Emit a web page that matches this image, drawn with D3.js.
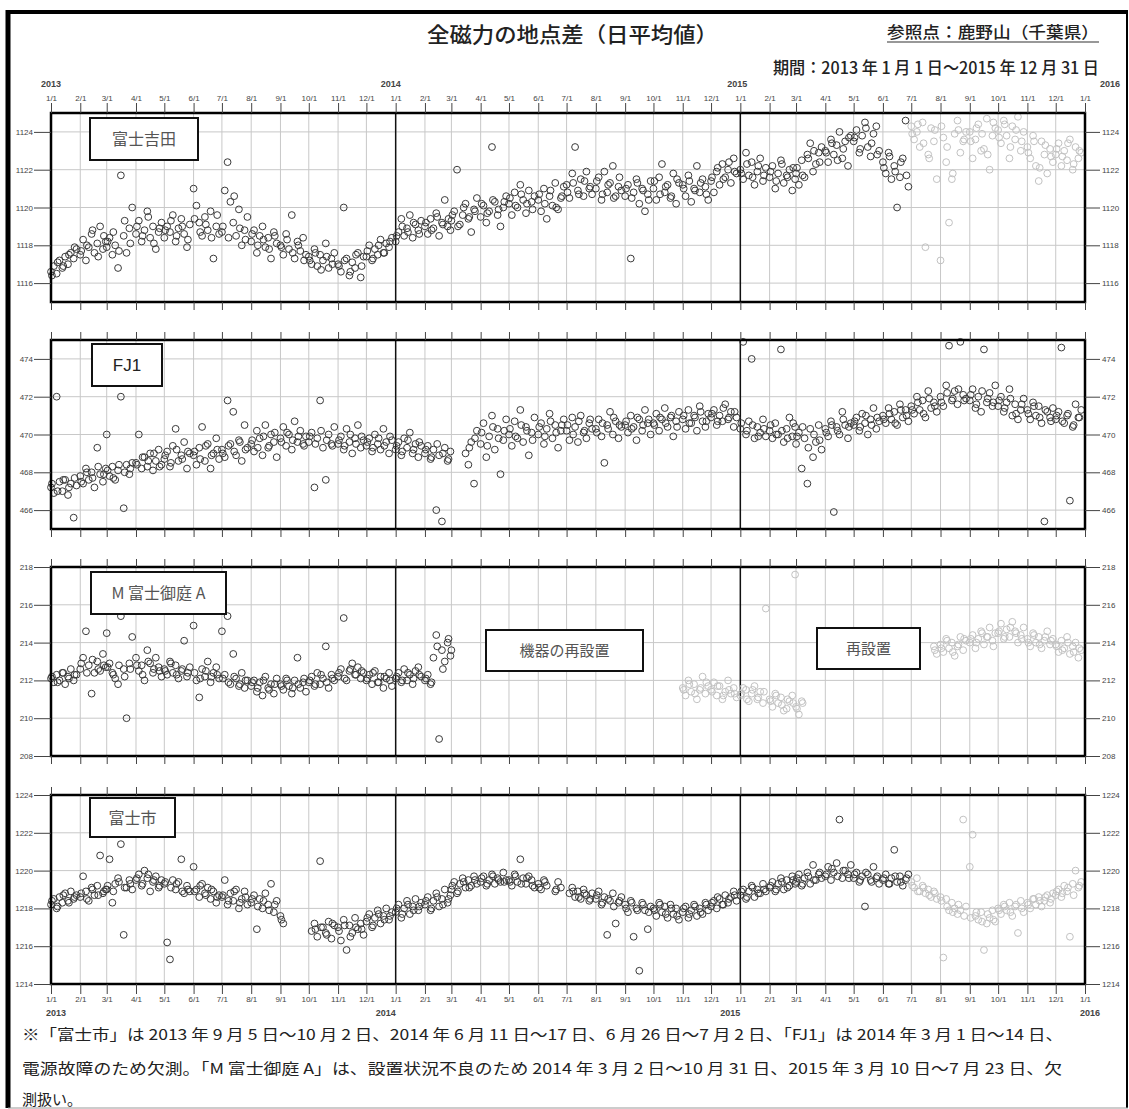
<!DOCTYPE html>
<html>
<head>
<meta charset="utf-8">
<script src="https://cdn.jsdelivr.net/npm/d3@7"></script>
<style>
  body { margin: 0; background: #fff; }
  svg { display: block; }
</style>
</head>
<body>
<div id="chart"></div>
<script>
// day of month for each entry in a row (first ten every 3 days, then five in-between days)
const sampleDays = [1, 4, 7, 10, 13, 16, 19, 22, 25, 28, 2, 8, 14, 20, 26];

// 富士吉田, Jan 2013 .. Dec 2015, one row per month
const fujiyoshida = [
  [1116.6,1116.9,1116.5,1117.2,1116.8,1117.4,1117.0,1117.6,1117.3,1117.8, 1116.4,1117.1,1116.9,1117.5,1117.9],
  [1117.5,1118.3,1117.2,1117.9,1118.6,1117.6,1118.1,1119.0,1117.8,1118.2, 1117.7,1118.0,1118.8,1117.4,1118.5],
  [1117.9,1118.4,1117.5,1118.0,1116.8,1121.7,1118.5,1117.6,1118.9,1120.0, 1118.2,1118.7,1117.7,1119.3,1118.1],
  [1118.6,1119.3,1118.2,1118.8,1119.8,1118.4,1119.0,1117.8,1118.7,1119.2, 1119.0,1118.5,1119.5,1118.1,1118.9],
  [1118.4,1119.0,1118.7,1119.6,1118.2,1118.9,1119.4,1118.6,1117.9,1119.1, 1118.8,1119.3,1118.5,1119.0,1118.3],
  [1121.0,1120.1,1119.2,1118.5,1119.5,1118.8,1119.8,1117.3,1119.0,1118.6, 1119.4,1118.7,1119.1,1118.4,1119.6],
  [1118.7,1120.9,1122.4,1120.3,1119.2,1118.5,1119.9,1118.0,1118.8,1119.5, 1119.0,1118.4,1120.6,1118.9,1118.3],
  [1118.2,1118.8,1117.6,1118.5,1119.0,1117.9,1118.4,1117.3,1118.7,1118.1, 1118.6,1118.0,1118.3,1117.8,1118.5],
  [1118.0,1117.5,1118.6,1117.8,1119.6,1117.3,1118.2,1117.7,1118.4,1117.5, 1117.9,1118.3,1117.6,1118.0,1117.2],
  [1117.4,1117.0,1117.8,1116.9,1117.5,1117.2,1118.1,1116.8,1117.3,1117.6, 1117.2,1117.6,1116.7,1117.4,1117.0],
  [1117.0,1116.6,1120.0,1117.3,1116.4,1117.1,1116.8,1117.6,1116.3,1117.4, 1116.9,1117.2,1116.6,1117.5,1116.9],
  [1117.4,1118.0,1117.2,1117.8,1117.5,1118.3,1117.6,1118.1,1117.9,1118.4, 1117.7,1117.3,1118.0,1117.6,1118.2],
  [1118.2,1118.7,1119.4,1118.5,1118.9,1119.6,1118.4,1119.1,1118.8,1119.3, 1118.5,1119.0,1118.7,1119.2,1118.6],
  [1119.0,1118.6,1119.4,1118.9,1119.7,1118.5,1119.2,1120.4,1119.0,1118.8, 1119.2,1118.8,1119.5,1119.1,1119.4],
  [1119.3,1119.8,1122.0,1119.1,1119.6,1120.2,1119.4,1118.7,1119.9,1120.5, 1119.6,1119.0,1120.0,1119.5,1119.8],
  [1119.5,1120.1,1119.2,1119.8,1123.2,1120.3,1119.6,1119.0,1120.0,1120.6, 1120.2,1119.7,1120.4,1119.9,1120.3],
  [1120.2,1119.6,1120.8,1120.0,1121.2,1120.4,1119.7,1120.9,1120.3,1120.6, 1120.5,1120.1,1120.7,1120.2,1119.9],
  [1120.4,1119.8,1121.0,1119.4,1120.6,1120.1,1121.3,1119.9,1120.5,1121.1, 1120.7,1120.2,1120.9,1120.0,1120.6],
  [1121.2,1120.5,1121.8,1123.2,1120.9,1121.5,1120.6,1121.9,1121.0,1120.7, 1120.8,1121.3,1120.7,1121.4,1121.1],
  [1121.0,1121.6,1120.4,1121.9,1120.8,1121.3,1122.2,1120.6,1121.1,1120.9, 1121.4,1120.7,1121.2,1120.5,1121.6],
  [1120.6,1121.2,1117.3,1120.8,1121.5,1120.2,1121.0,1119.8,1120.7,1121.4, 1121.0,1120.5,1121.3,1120.9,1120.4],
  [1121.0,1120.4,1121.6,1122.3,1120.8,1121.2,1120.5,1121.8,1120.2,1121.3, 1121.4,1120.7,1121.1,1120.6,1121.5],
  [1121.2,1120.6,1121.7,1120.3,1121.0,1122.2,1120.8,1121.5,1121.1,1120.4, 1121.0,1121.4,1120.9,1121.3,1120.7],
  [1121.4,1120.8,1121.9,1121.2,1122.3,1121.6,1122.0,1121.3,1122.6,1121.8, 1121.6,1122.1,1121.5,1122.4,1121.9],
  [1122.0,1121.5,1122.9,1121.7,1122.4,1121.2,1121.9,1122.6,1121.4,1122.1, 1121.8,1122.3,1121.6,1122.2,1121.7],
  [1121.6,1122.2,1121.0,1121.8,1122.5,1121.3,1121.7,1122.0,1120.9,1121.5, 1121.9,1121.4,1122.3,1121.6,1122.1],
  [1121.8,1121.2,1122.5,1121.6,1122.8,1123.4,1121.9,1122.3,1122.9,1123.2, 1122.1,1121.7,1122.6,1123.0,1122.4],
  [1123.0,1122.4,1123.6,1122.8,1123.3,1124.0,1122.6,1123.5,1122.2,1123.8, 1122.9,1123.4,1122.5,1123.1,1123.7],
  [1123.5,1124.1,1122.9,1123.8,1124.5,1123.2,1122.7,1123.9,1124.3,1123.0, 1123.7,1123.1,1124.2,1123.4,1122.8],
  [1122.4,1121.8,1122.9,1121.5,1122.2,1120.0,1121.6,1122.6,1124.6,1121.1, 1122.1,1122.7,1121.9,1122.4,1121.7],
  [1124.3,1123.6,1124.0,1123.2,1124.5,1117.9,1122.8,1124.2,1123.5,1121.5, 1123.9,1124.4,1123.4,1122.6,1124.1],
  [1117.2,1123.7,1122.4,1119.2,1121.5,1123.9,1124.6,1122.9,1123.5,1124.0, 1124.3,1123.2,1121.8,1124.1,1123.6],
  [1124.0,1122.6,1123.6,1124.4,1123.0,1123.1,1124.7,1122.0,1123.8,1124.2, 1123.5,1124.2,1123.9,1122.8,1124.5],
  [1124.1,1123.4,1124.6,1123.8,1122.6,1124.3,1123.6,1124.8,1123.0,1124.0, 1123.7,1124.4,1123.2,1124.1,1123.5],
  [1123.2,1122.6,1123.8,1122.2,1121.4,1123.5,1122.8,1121.8,1123.1,1122.4, 1122.9,1123.5,1122.1,1123.3,1122.7],
  [1122.8,1123.4,1122.2,1123.0,1122.5,1123.6,1122.0,1123.2,1122.6,1122.9, 1123.1,1122.7,1123.4,1122.3,1123.0]
];

// FJ1
const fj1 = [
  [467.2,466.9,472.0,467.5,467.0,467.6,466.8,467.4,465.6,467.3, 467.4,467.0,467.6,467.2,467.7],
  [467.8,467.4,468.2,467.6,468.0,467.2,469.3,467.9,467.5,468.2, 467.5,468.0,467.7,468.3,467.9],
  [470.0,467.8,468.3,467.6,468.1,472.0,466.1,468.4,467.9,468.5, 468.1,467.7,468.4,468.0,468.2],
  [468.5,470.0,468.2,468.8,468.3,469.0,468.1,468.6,469.2,468.4, 468.4,468.8,468.6,469.0,468.3],
  [468.7,469.1,468.3,469.4,470.3,468.6,468.9,469.6,468.2,469.0, 468.9,468.5,469.2,468.7,469.1],
  [468.9,468.4,469.3,470.4,468.6,469.5,468.2,469.0,469.8,468.7, 469.1,468.7,469.4,468.9,469.2],
  [469.2,468.8,471.8,469.5,471.2,468.9,469.7,468.6,470.5,469.3, 469.0,469.4,469.1,469.6,469.2],
  [469.5,469.1,470.2,469.8,468.9,470.5,469.3,470.0,469.6,468.8, 469.7,469.3,469.9,469.4,470.1],
  [469.8,470.4,469.4,470.0,469.2,470.7,469.6,470.2,469.5,469.9, 469.6,470.1,469.7,469.9,469.4],
  [469.6,470.1,467.2,469.8,471.8,469.3,467.6,470.0,469.5,470.4, 469.9,469.5,470.2,469.7,469.4],
  [469.5,469.9,469.2,470.3,469.6,469.0,469.8,470.5,469.3,469.7, 469.7,469.4,470.0,469.5,469.9],
  [469.4,469.8,469.1,470.0,469.5,469.2,470.3,469.6,469.0,469.7, 469.6,469.3,469.8,469.4,469.9],
  [469.2,469.6,468.9,469.8,469.3,470.1,469.0,469.5,468.8,469.4, 469.4,469.1,469.7,469.2,469.6],
  [469.0,469.4,468.7,469.2,466.0,468.9,465.4,469.3,468.6,469.1, 469.2,468.8,469.5,469.0,468.7],
  [null,null,null,null,null,469.0,468.4,469.6,467.4,470.2, null,null,null,469.3,469.8],
  [469.5,470.6,468.8,469.9,471.0,469.2,470.3,467.9,469.7,470.8, 470.1,469.4,470.4,469.8,470.2],
  [470.0,469.4,470.7,469.8,471.3,469.6,470.4,468.9,470.1,470.9, 470.3,469.9,470.5,470.2,469.7],
  [470.0,470.6,469.5,470.3,471.1,469.8,470.5,469.3,470.2,470.8, 470.4,469.9,470.7,470.1,470.5],
  [470.2,469.7,470.9,470.4,469.6,471.0,470.1,469.8,470.6,470.3, 470.5,470.0,470.7,470.2,470.8],
  [470.3,470.8,469.9,468.5,470.5,471.2,470.0,470.7,469.8,470.4, 470.1,470.6,470.3,470.9,470.5],
  [470.5,470.1,471.0,470.4,469.7,470.8,470.2,471.3,470.6,470.0, 470.7,470.3,470.9,470.5,470.8],
  [470.6,471.1,470.2,470.8,471.4,470.4,470.9,469.9,470.7,471.2, 470.5,470.9,470.6,471.0,470.4],
  [470.8,470.3,471.3,470.6,471.0,470.2,471.5,470.7,470.4,471.1, 471.0,470.6,470.9,471.2,470.7],
  [470.9,471.3,470.5,471.0,470.7,471.6,470.8,471.2,470.4,470.9, 471.1,470.7,471.4,470.9,471.2],
  [470.3,474.9,470.0,470.7,474.0,469.8,470.4,470.1,470.8,469.9, 470.6,470.2,470.5,469.9,470.3],
  [470.2,469.8,470.6,470.0,474.5,469.6,470.3,470.9,469.9,470.4, 470.5,470.0,470.2,469.8,470.6],
  [469.5,470.1,468.2,469.8,467.4,470.3,468.8,469.6,470.5,469.2, 469.9,470.4,469.3,470.0,469.7],
  [470.3,469.9,470.7,465.9,470.4,470.0,471.2,470.5,469.8,470.6, 470.1,470.5,470.2,470.8,470.4],
  [470.5,470.9,470.2,471.1,470.6,470.0,470.8,471.4,470.3,470.7, 470.7,470.4,471.0,470.5,470.9],
  [471.0,470.6,471.4,470.8,471.2,470.5,471.6,470.9,471.3,470.7, 470.8,471.1,470.6,471.3,471.0],
  [471.5,471.1,472.0,471.3,471.8,470.9,472.3,471.4,471.7,471.2, 471.3,471.7,471.1,471.9,471.5],
  [472.0,471.5,472.6,474.7,471.8,472.3,471.6,474.9,472.1,471.9, 471.7,472.2,471.9,472.4,471.8],
  [471.8,472.4,471.4,472.0,471.2,474.5,471.7,472.2,471.5,472.6, 472.1,471.6,472.3,471.9,471.7],
  [471.5,472.0,471.2,471.7,472.4,471.0,471.6,470.8,471.3,471.9, 471.8,471.4,471.9,471.1,471.6],
  [471.3,470.8,471.7,471.0,471.5,470.6,465.4,471.2,470.9,471.4, 471.1,471.5,470.9,471.3,470.7],
  [470.8,471.2,474.6,470.6,471.0,466.5,470.4,471.6,470.9,471.3, 471.0,470.7,471.1,470.5,470.9]
];

// M 富士御庭 A
const oniwa = [
  [212.1,211.9,212.3,212.0,212.4,211.8,212.2,212.6,212.0,212.3, 212.2,211.9,212.4,212.1,212.3],
  [212.6,213.2,214.6,212.8,211.3,212.4,213.0,212.5,213.4,212.7, 212.9,212.4,213.1,212.6,212.8],
  [214.5,212.9,212.4,212.1,211.8,215.4,212.6,210.0,212.9,214.3, 212.7,212.3,212.8,212.2,212.6],
  [213.2,212.5,212.8,212.0,213.6,212.9,212.4,213.2,212.7,212.2, 212.8,212.3,213.0,212.6,212.5],
  [212.6,212.3,213.0,212.4,212.8,212.1,212.5,214.1,212.2,212.7, 212.5,212.9,212.3,212.6,212.4],
  [214.9,212.0,211.1,212.6,212.2,213.0,211.9,212.4,212.7,212.1, 212.4,212.1,212.5,212.2,212.3],
  [214.6,212.3,215.4,211.8,213.4,212.1,211.7,212.4,211.6,212.0, 212.1,211.9,212.2,211.8,212.0],
  [211.7,212.0,211.4,211.9,211.2,212.2,211.6,211.8,211.3,212.1, 211.9,211.6,212.0,211.5,211.8],
  [211.8,211.5,212.1,211.7,211.3,212.0,213.2,211.6,211.9,211.4, 211.7,212.0,211.6,211.8,212.1],
  [211.9,212.2,211.7,212.4,211.8,212.1,213.8,211.6,212.3,212.0, 212.0,211.8,212.3,211.9,212.1],
  [212.2,212.6,215.3,212.0,212.5,212.9,212.3,212.7,212.1,212.4, 212.4,212.1,212.6,212.3,212.5],
  [212.0,212.3,211.8,212.5,211.9,212.2,211.6,212.1,212.4,211.7, 212.1,212.4,211.9,212.2,212.0],
  [212.1,212.4,211.9,212.6,212.0,212.3,211.8,212.5,212.7,212.2, 212.2,212.0,212.4,212.1,212.3],
  [212.0,212.3,211.8,213.2,214.4,208.9,213.6,213.0,214.0,213.3, 212.1,211.9,213.8,212.6,214.2],
  [213.6],
  [], [], [], [], [], [], [],
  [211.6,211.2,212.0,211.4,211.8,211.0,211.5,212.2,211.3,211.7, 211.5,211.8,211.3,211.6,211.9],
  [211.5,211.9,211.2,211.7,211.0,211.4,212.0,211.3,211.6,211.1, 211.4,211.7,211.2,211.5,211.3],
  [211.2,211.6,211.5,210.9,211.3,211.7,211.0,211.4,210.8,215.8, 211.3,211.0,211.5,211.1,211.4],
  [211.0,210.6,211.3,210.8,211.1,210.4,210.5,210.9,211.2,217.6, 210.9,211.2,210.7,211.0,210.8],
  [210.6,210.2,210.9,null,null,null,null,null,null,null, 210.5,210.8],
  [], [], [],
  [null,null,null,null,null,null,null,null,213.8,213.4, null,null,null,null,213.6],
  [213.9,213.5,214.2,213.7,214.0,213.3,213.8,214.3,213.6,214.1, 213.7,214.1,213.5,213.9,214.2],
  [214.0,214.4,213.7,214.2,214.6,213.9,214.3,214.8,214.1,214.5, 214.2,214.0,214.5,214.3,213.8],
  [214.5,215.0,214.2,214.7,214.3,215.1,214.6,214.0,214.4,214.8, 214.6,214.3,214.8,214.5,214.2],
  [214.2,213.8,214.5,214.0,214.3,213.7,214.1,214.6,213.9,214.2, 214.0,214.4,213.9,214.3,214.1],
  [213.9,213.5,214.1,213.7,214.3,213.4,213.8,214.0,213.2,213.6, 213.8,213.6,214.0,213.5,213.7]
];

// 富士市
const fujishi = [
  [1218.2,1218.5,1218.0,1218.6,1218.3,1218.8,1218.4,1218.9,1218.5,1218.7, 1218.4,1218.1,1218.7,1218.3,1218.6],
  [1218.6,1219.7,1218.9,1218.4,1219.1,1218.7,1219.2,1220.8,1218.8,1219.0, 1218.8,1218.5,1219.0,1218.7,1218.9],
  [1219.0,1220.6,1218.3,1219.3,1219.6,1221.4,1216.6,1219.1,1219.5,1219.0, 1219.2,1218.9,1219.4,1219.1,1219.3],
  [1219.5,1219.8,1219.2,1220.0,1219.6,1218.9,1219.4,1219.7,1219.1,1219.5, 1219.6,1219.3,1219.8,1219.5,1219.2],
  [1219.3,1216.2,1215.3,1219.5,1219.0,1219.4,1220.6,1218.8,1219.2,1218.9, 1219.4,1219.1,1219.3,1218.9,1219.0],
  [1220.2,1219.0,1218.6,1219.3,1218.8,1219.1,1218.5,1218.9,1218.3,1218.7, 1218.9,1219.2,1218.7,1219.0,1218.6],
  [1218.6,1219.5,1218.2,1218.8,1218.4,1219.0,1218.0,1218.5,1218.9,1218.2, 1218.7,1218.4,1218.9,1218.3,1218.6],
  [1218.3,1218.7,1216.9,1218.5,1218.0,1218.8,1218.2,1219.3,1217.8,1218.4, 1218.5,1218.1,1218.4,1217.9,1218.2],
  [1217.6,1217.2,null,null,null,null,null,null,null,null, 1217.4],
  [null,1216.8,1217.2,1216.5,1220.5,1217.0,1216.7,1217.3,1216.4,1217.1, null,1216.9,1217.0,1216.6,1217.2],
  [1217.0,1216.3,1217.4,1215.8,1217.1,1216.7,1217.5,1216.9,1217.2,1216.6, 1216.8,1217.1,1216.5,1217.0,1216.9],
  [1217.3,1217.7,1217.0,1217.5,1217.9,1217.2,1217.6,1218.0,1217.4,1217.8, 1217.5,1217.1,1217.7,1217.4,1217.6],
  [1217.8,1218.2,1217.5,1218.0,1218.4,1217.7,1218.1,1218.5,1217.9,1218.3, 1218.0,1217.7,1218.2,1217.9,1218.1],
  [1218.2,1218.6,1217.9,1218.4,1218.8,1218.1,1218.5,1219.0,1218.3,1218.7, 1218.4,1218.0,1218.6,1218.2,1218.5],
  [1219.0,1219.4,1218.8,1219.3,1219.6,1219.1,1219.5,1219.2,1219.7,1219.3, 1219.2,1218.9,1219.4,1219.1,1219.5],
  [1219.4,1219.7,1219.2,1219.5,1219.8,1219.3,1219.6,1219.4,1219.9,1219.5, 1219.6,1219.3,1219.7,1219.5,1219.4],
  [1219.5,1219.2,1219.8,1219.4,1220.6,1219.6,1219.3,1219.7,1219.5,1219.1, 1219.4,1219.7,1219.3,1219.6,1219.2],
  [1219.3,1219.0,1219.5,1219.2,null,null,1218.9,1219.4,1219.1,null, 1219.1,1219.4,null,1219.0,null],
  [null,1218.8,1219.1,1218.6,1218.9,1218.5,1219.0,1218.7,1218.4,1218.8, null,1218.9,1218.6,1218.8,1218.5],
  [1218.5,1218.9,1218.2,1218.6,1216.6,1218.4,1218.8,1217.2,1218.3,1218.6, 1218.7,1218.3,1218.5,1218.1,1218.4],
  [1218.2,1217.8,1218.4,1216.5,1218.0,1214.7,1218.3,1217.9,1216.9,1218.1, 1218.0,1218.3,1217.9,1218.2,1217.8],
  [1218.0,1217.6,1218.3,1217.8,1218.1,1217.5,1218.2,1217.7,1218.0,1217.4, 1217.9,1218.2,1217.7,1218.0,1217.6],
  [1217.8,1218.1,1217.5,1217.9,1218.2,1217.6,1218.0,1217.7,1218.3,1217.9, 1218.0,1217.7,1218.1,1217.8,1218.2],
  [1218.1,1218.4,1218.0,1218.5,1218.2,1218.7,1218.3,1218.6,1218.9,1218.4, 1218.3,1218.6,1218.2,1218.5,1218.7],
  [1218.7,1219.0,1218.5,1218.9,1219.2,1218.6,1219.0,1218.8,1219.3,1218.9, 1218.9,1218.6,1219.1,1218.8,1219.0],
  [1219.1,1219.4,1218.9,1219.3,1219.6,1219.0,1219.5,1219.2,1219.7,1219.3, 1219.2,1219.0,1219.4,1219.1,1219.5],
  [1219.4,1219.8,1219.2,1219.6,1219.9,1219.3,1220.3,1219.5,1219.8,1219.6, 1219.6,1219.3,1219.7,1219.5,1219.9],
  [1219.7,1220.2,1219.5,1219.9,1220.4,1222.7,1219.6,1220.0,1219.8,1220.3, 1219.8,1220.1,1219.7,1220.0,1219.6],
  [1219.6,1219.9,1219.4,1219.7,1218.1,1219.8,1219.5,1220.2,1219.6,1219.3, 1219.8,1219.5,1219.9,1219.4,1219.7],
  [1219.5,1219.8,1219.3,1219.6,1221.1,1219.4,1219.7,1219.2,1219.5,1219.8, 1219.6,1219.3,1219.7,1219.4,1219.6],
  [1219.4,1219.1,1219.6,1218.9,1219.2,1218.8,1219.0,1218.6,1218.9,1218.5, 1219.2,1218.9,1219.1,1218.7,1218.8],
  [1218.6,1215.4,1218.5,1217.9,1218.3,1218.0,1217.7,1217.9,1222.7,1218.1, 1218.4,1218.1,1217.8,1218.2,1217.6],
  [1220.2,1221.9,1217.6,1217.4,1217.8,1215.8,1217.2,1217.5,1217.9,1217.3, 1217.5,1217.8,1217.3,1217.7,1217.4],
  [1218.0,1217.7,1218.2,1217.9,1218.3,1217.6,1218.1,1216.7,1218.4,1217.8, 1217.9,1218.1,1217.8,1218.2,1218.0],
  [1218.3,1218.0,1218.5,1218.2,1218.6,1218.1,1218.4,1218.7,1218.3,1218.8, 1218.2,1218.5,1218.4,1218.6,1218.5],
  [1218.7,1219.0,1218.6,1219.2,1218.9,1216.5,1219.3,1220.0,1219.1,1219.4, 1218.9,1218.8,1219.1,1218.7,1219.2]
];

const panelNames = ['富士吉田', 'FJ1', 'M 富士御庭 A', '富士市'];
const panelSeries = [fujiyoshida, fj1, oniwa, fujishi];
const panelDomains = [[1115, 1125], [465, 475], [208, 218], [1214, 1224]];
const panelTicks = [
  [1116, 1118, 1120, 1122, 1124],
  [466, 468, 470, 472, 474],
  [208, 210, 212, 214, 216, 218],
  [1214, 1216, 1218, 1220, 1222, 1224]
];
// periods drawn in light grey
const fadedRanges = [
  [['2015-07-01', '2016-01-01']],
  [],
  [['2014-11-01', '2015-03-10'], ['2015-07-24', '2016-01-01']],
  [['2015-07-01', '2016-01-01']]
];
const yearLabels = ['2013', '2014', '2015', '2016'];
const footnotes = [
  '※「富士市」は 2013 年 9 月 5 日～10 月 2 日、2014 年 6 月 11 日～17 日、6 月 26 日～7 月 2 日、「FJ1」は 2014 年 3 月 1 日～14 日、',
  '電源故障のため欠測。「M 富士御庭 A」は、設置状況不良のため 2014 年 3 月 2 日～10 月 31 日、2015 年 3 月 10 日～7 月 23 日、欠',
  '測扱い。'
];

// layout
const W = 1129, H = 1109;
const plotLeft = 51, plotRight = 1085;
const panelTops = [113, 340, 567, 795];
const panelH = 189;
const labelBoxes = [[90, 118, 108, 42], [92, 344, 70, 42], [91, 572, 135, 42], [90, 798, 85, 39]];
const noteBoxes = [
  { text: '機器の再設置', box: [486, 630, 157, 41] },
  { text: '再設置', box: [817, 628, 103, 41] }
];
const topYearShift = [0, -5, -3, 25];
const bottomYearShift = [5, -10, -10, 5];
const jpFont = '"Noto Sans CJK JP", "Noto Sans", sans-serif';
const numFont = '"Liberation Sans", Arial, sans-serif';

const svg = d3.select('#chart').append('svg')
  .attr('width', W)
  .attr('height', H);

svg.append('rect').attr('width', W).attr('height', H).attr('fill', '#fff');

const start = new Date(Date.UTC(2013, 0, 1));
const end = new Date(Date.UTC(2016, 0, 1));
const x = d3.scaleUtc().domain([start, end]).range([plotLeft, plotRight]);
const monthTicks = d3.utcMonths(start, new Date(Date.UTC(2016, 0, 2)));
const yearTicks = d3.utcYears(start, new Date(Date.UTC(2016, 0, 2)));

function toPoints(rows) {
  const pts = [];
  rows.forEach((row, m) => {
    row.forEach((v, k) => {
      if (v == null) return;
      pts.push({ date: new Date(Date.UTC(2013, m, sampleDays[k])), value: v });
    });
  });
  return pts;
}

function isFaded(i, date) {
  return fadedRanges[i].some(([a, b]) => date >= new Date(a) && date < new Date(b));
}

// outer frame
svg.append('line').attr('x1', 8).attr('x2', 1128).attr('y1', 12).attr('y2', 12)
  .attr('stroke', '#000').attr('stroke-width', 4);
svg.append('line').attr('x1', 8).attr('x2', 8).attr('y1', 10).attr('y2', 1108)
  .attr('stroke', '#000').attr('stroke-width', 5);
svg.append('line').attr('x1', 1127).attr('x2', 1127).attr('y1', 10).attr('y2', 1108)
  .attr('stroke', '#000').attr('stroke-width', 2);
svg.append('line').attr('x1', 8).attr('x2', 1128).attr('y1', 1108).attr('y2', 1108)
  .attr('stroke', '#999').attr('stroke-width', 1);

// titles
svg.append('text')
  .attr('x', 427).attr('y', 42)
  .attr('font-family', jpFont).attr('font-size', 21).attr('font-weight', 500)
  .attr('fill', '#222')
  .attr('textLength', 291).attr('lengthAdjust', 'spacingAndGlyphs')
  .text('全磁力の地点差（日平均値）');

svg.append('text')
  .attr('x', 887).attr('y', 38)
  .attr('font-family', jpFont).attr('font-size', 16).attr('font-weight', 500)
  .attr('fill', '#222')
  .attr('textLength', 212).attr('lengthAdjust', 'spacingAndGlyphs')
  .text('参照点：鹿野山（千葉県）');
svg.append('line').attr('x1', 887).attr('x2', 1099).attr('y1', 42).attr('y2', 42)
  .attr('stroke', '#333').attr('stroke-width', 1.2);

svg.append('text')
  .attr('x', 773).attr('y', 74)
  .attr('font-family', jpFont).attr('font-size', 17).attr('font-weight', 500)
  .attr('fill', '#222')
  .attr('textLength', 326).attr('lengthAdjust', 'spacingAndGlyphs')
  .text('期間：2013 年 1 月 1 日～2015 年 12 月 31 日');

function styleAxis(g) {
  g.select('.domain').remove();
  g.attr('color', '#444')
    .attr('font-family', numFont)
    .attr('font-size', 8);
}

panelSeries.forEach((rows, i) => {
  const top = panelTops[i];
  const bottom = top + panelH;
  const y = d3.scaleLinear().domain(panelDomains[i]).range([bottom, top]);
  const g = svg.append('g');

  // grid
  g.append('g').selectAll('line')
    .data(monthTicks)
    .join('line')
    .attr('x1', d => x(d)).attr('x2', d => x(d))
    .attr('y1', top).attr('y2', bottom)
    .attr('stroke', '#c8c8c8').attr('stroke-width', 1);
  g.append('g').selectAll('line')
    .data(panelTicks[i])
    .join('line')
    .attr('x1', plotLeft).attr('x2', plotRight)
    .attr('y1', d => y(d)).attr('y2', d => y(d))
    .attr('stroke', '#c8c8c8').attr('stroke-width', 1);
  g.append('g').selectAll('line')
    .data(yearTicks.slice(1, -1))
    .join('line')
    .attr('x1', d => x(d)).attr('x2', d => x(d))
    .attr('y1', top).attr('y2', bottom)
    .attr('stroke', '#111').attr('stroke-width', 1.5);

  // points
  const pts = toPoints(rows);
  g.append('g').selectAll('circle')
    .data(pts)
    .join('circle')
    .attr('cx', d => x(d.date))
    .attr('cy', d => y(d.value))
    .attr('r', 3.4)
    .attr('fill', 'none')
    .attr('stroke', d => isFaded(i, d.date) ? '#c2c2c2' : '#3a3a3a')
    .attr('stroke-width', 1);

  // frame
  g.append('rect')
    .attr('x', plotLeft).attr('y', top)
    .attr('width', plotRight - plotLeft).attr('height', panelH)
    .attr('fill', 'none').attr('stroke', '#000').attr('stroke-width', 2.5);

  // station label
  const [bx, by, bw, bh] = labelBoxes[i];
  g.append('rect').attr('x', bx).attr('y', by).attr('width', bw).attr('height', bh)
    .attr('fill', '#fff').attr('stroke', '#111').attr('stroke-width', 2);
  g.append('text')
    .attr('x', bx + bw / 2).attr('y', by + bh / 2 + 6)
    .attr('text-anchor', 'middle')
    .attr('font-family', i === 1 ? numFont : jpFont)
    .attr('font-size', i === 1 ? 17 : 16)
    .attr('fill', i === 1 ? '#222' : '#555')
    .text(panelNames[i]);

  // y axes
  g.append('g')
    .attr('transform', `translate(${plotLeft},0)`)
    .call(d3.axisLeft(y).tickValues(panelTicks[i]).tickSize(17).tickPadding(1).tickFormat(d3.format('d')))
    .call(styleAxis);
  g.append('g')
    .attr('transform', `translate(${plotRight},0)`)
    .call(d3.axisRight(y).tickValues(panelTicks[i]).tickSize(15).tickPadding(2).tickFormat(d3.format('d')))
    .call(styleAxis);

  // month ticks above and below
  const topAxis = d3.axisTop(x).tickValues(monthTicks).tickSize(i === 0 ? 10 : 8).tickPadding(2)
    .tickFormat(i === 0 ? d3.utcFormat('%-m/%-d') : '');
  g.append('g').attr('transform', `translate(0,${top})`).call(topAxis).call(styleAxis);
  const bottomAxis = d3.axisBottom(x).tickValues(monthTicks).tickSize(i === 3 ? 10 : 8).tickPadding(2)
    .tickFormat(i === 3 ? d3.utcFormat('%-m/%-d') : '');
  g.append('g').attr('transform', `translate(0,${bottom})`).call(bottomAxis).call(styleAxis);
});

// panel 3 notes
noteBoxes.forEach(n => {
  const [bx, by, bw, bh] = n.box;
  svg.append('rect').attr('x', bx).attr('y', by).attr('width', bw).attr('height', bh)
    .attr('fill', '#fff').attr('stroke', '#111').attr('stroke-width', 2);
  svg.append('text')
    .attr('x', bx + bw / 2).attr('y', by + bh / 2 + 5)
    .attr('text-anchor', 'middle')
    .attr('font-family', jpFont).attr('font-size', 15).attr('fill', '#555')
    .text(n.text);
});

// year labels
svg.append('g').selectAll('text')
  .data(yearTicks)
  .join('text')
  .attr('x', (d, k) => x(d) + topYearShift[k]).attr('y', 87)
  .attr('text-anchor', 'middle')
  .attr('font-family', numFont).attr('font-size', 9).attr('font-weight', 'bold').attr('fill', '#444')
  .text((d, k) => yearLabels[k]);
svg.append('g').selectAll('text')
  .data(yearTicks)
  .join('text')
  .attr('x', (d, k) => x(d) + bottomYearShift[k]).attr('y', 1016)
  .attr('text-anchor', 'middle')
  .attr('font-family', numFont).attr('font-size', 9).attr('font-weight', 'bold').attr('fill', '#444')
  .text((d, k) => yearLabels[k]);

// footnote
const noteY = [1040, 1074, 1105];
const noteLen = [1041, 1040, null];
footnotes.forEach((t, k) => {
  const txt = svg.append('text')
    .attr('x', 22).attr('y', noteY[k])
    .attr('font-family', jpFont).attr('font-size', 15).attr('fill', '#222')
    .text(t);
  if (noteLen[k]) txt.attr('textLength', noteLen[k]).attr('lengthAdjust', 'spacingAndGlyphs');
});
</script>
</body>
</html>
